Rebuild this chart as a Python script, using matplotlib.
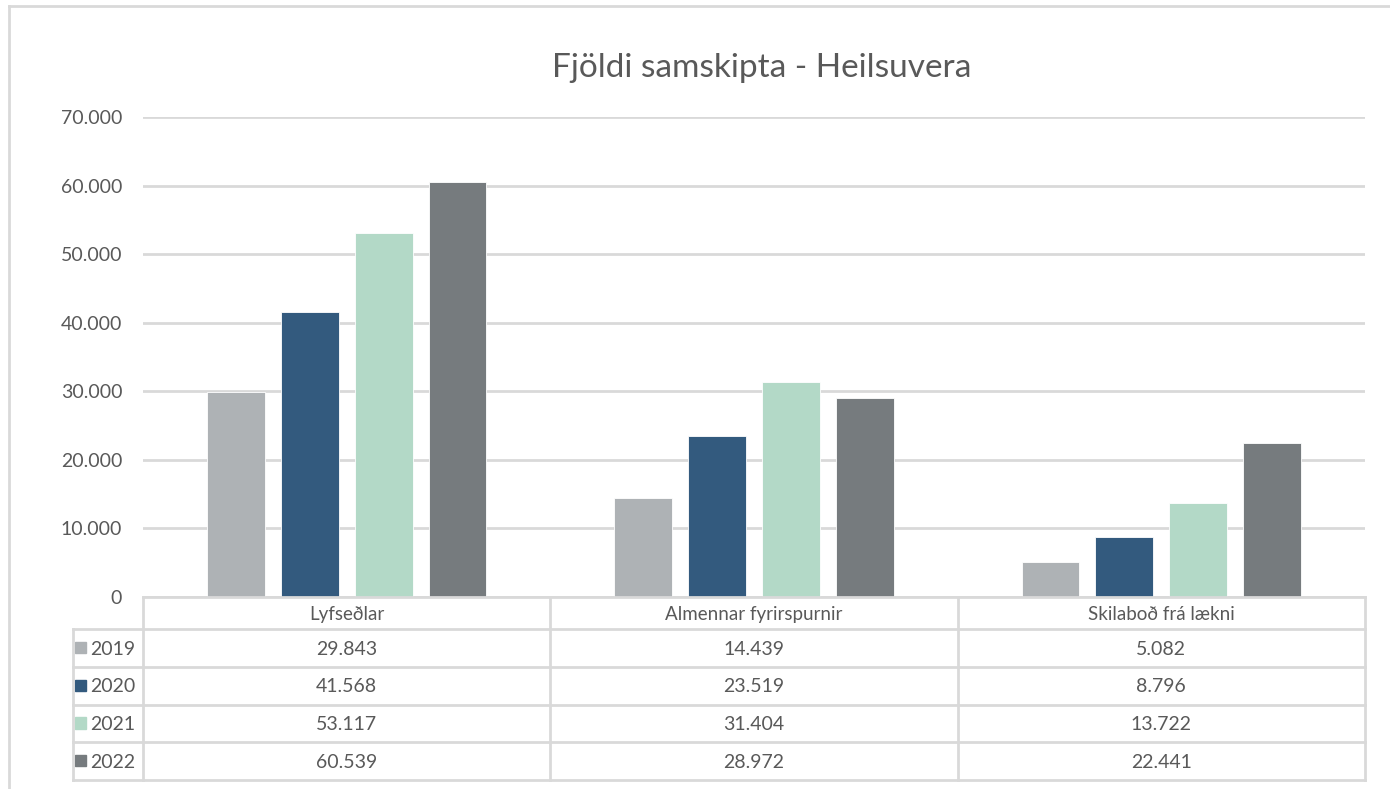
import numpy as np
import matplotlib.pyplot as plt
from matplotlib.patches import Rectangle

plt.rcParams['font.family'] = ['Lato', 'DejaVu Sans']

# data
categories = ['Lyfseðlar', 'Almennar fyrirspurnir', 'Skilaboð frá lækni']
years = ['2019', '2020', '2021', '2022']
v2019 = [29843, 14439, 5082]
v2020 = [41568, 23519, 8796]
v2021 = [53117, 31404, 13722]
v2022 = [60539, 28972, 22441]
series = [v2019, v2020, v2021, v2022]
colors = ['#AEB2B5', '#335A7E', '#B3D9C7', '#767B7E']
yticks = [0, 10000, 20000, 30000, 40000, 50000, 60000, 70000]

TXT = '#595959'
GRID = '#D9D9D9'
W, H = 1390, 789


def fmt(v):
    # icelandic thousands separator
    return f'{v:,}'.replace(',', '.')


fig = plt.figure(figsize=(W / 100, H / 100), dpi=100)

# outer chart border
fig.add_artist(plt.Line2D([9 / W, 9 / W], [0, 1 - 6 / H], color=GRID, lw=2))
fig.add_artist(plt.Line2D([9 / W, 1], [1 - 6 / H, 1 - 6 / H], color=GRID, lw=2))

# bar axes
ax = fig.add_axes([143 / W, (H - 597) / H, 1222 / W, 480 / H])
x = np.arange(len(categories))
step = 74 / 408
bw = 58 / 408
for i, vals in enumerate(series):
    ax.bar(x + (i - 1.5) * step, vals, width=bw, color=colors[i],
           edgecolor='white', linewidth=0.6, zorder=3)
ax.set_xlim(-0.5, len(categories) - 0.5)
ax.set_ylim(0, 70000)
ax.set_yticks(yticks)
ax.set_yticklabels([fmt(t) for t in yticks], fontsize=14, color=TXT)
ax.tick_params(axis='y', length=0, pad=15)
ax.set_xticks([])
ax.grid(axis='y', color=GRID, lw=2, zorder=0)
for s in ax.spines.values():
    s.set_visible(False)

fig.text(762 / W, 1 - 68 / H, 'Fjöldi samskipta - Heilsuvera',
         ha='center', va='center', fontsize=24, color=TXT)

# data table below the bars
tax = fig.add_axes([143 / W, (H - 780) / H, 1222 / W, 183 / H])
hh = 0.85
nrow = len(years)
tax.set_xlim(-0.5, len(categories) - 0.5)
tax.set_ylim(hh + nrow, 0)
tax.axis('off')
left = -0.5 - 70 / 408
lk = dict(color=GRID, lw=2, clip_on=False, solid_capstyle='projecting')
# header frame
tax.plot([-0.5, 2.5], [0, 0], **lk)
for c in range(len(categories) + 1):
    tax.plot([c - 0.5, c - 0.5], [0, hh + nrow], **lk)
for r in range(nrow + 1):
    tax.plot([left, 2.5], [hh + r, hh + r], **lk)
tax.plot([left, left], [hh, hh + nrow], **lk)

for c, name in enumerate(categories):
    tax.text(c, hh / 2 + 0.05, name, ha='center', va='center',
             fontsize=13.5, color=TXT)
for r, (yr, vals) in enumerate(zip(years, series)):
    yc = hh + r + 0.5
    tax.add_patch(Rectangle((left + 2 / 408, yc - 0.16), 11 / 408, 0.3,
                            color=colors[r], clip_on=False))
    tax.text(left + 17 / 408, yc + 0.03, yr, ha='left', va='center',
             fontsize=14, color=TXT)
    for c, v in enumerate(vals):
        tax.text(c, yc + 0.03, fmt(v), ha='center', va='center',
                 fontsize=14, color=TXT)

fig.savefig('out.png', dpi=100)
